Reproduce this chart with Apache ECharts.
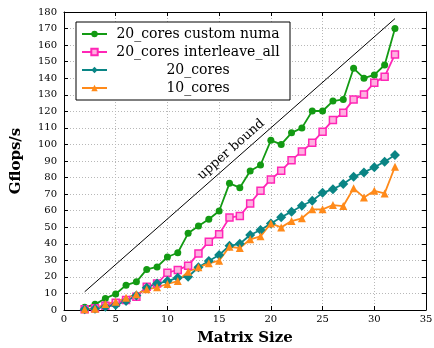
<!DOCTYPE html>
<html>
<head>
<meta charset="utf-8">
<script src="https://cdn.jsdelivr.net/npm/echarts@6/dist/echarts.min.js"></script>
<style>
  html, body { margin: 0; padding: 0; background: #fff; }
  #main { width: 434px; height: 348px; }
</style>
</head>
<body>
<div id="main"></div>
<script>
// matrix sizes 2..32
const sizes = [2, 3, 4, 5, 6, 7, 8, 9, 10, 11, 12, 13, 14, 15, 16, 17,
  18, 19, 20, 21, 22, 23, 24, 25, 26, 27, 28, 29, 30, 31, 32];

const customNuma = [1.6, 3.4, 7, 9.7, 15, 17, 24.5, 26, 32, 34.6, 46.3, 50.7, 54.8, 59.8, 76.5, 73.9,
  84, 87.6, 102.5, 100, 107, 110, 120.2, 120.2, 126.2, 127.2, 146, 140, 142, 148, 170];
const interleaveAll = [0.5, 1, 2.6, 4.4, 6, 8, 14, 16, 22.5, 24.2, 26.8, 34.2, 41.3, 45.7, 55.8, 56.8,
  64.4, 72, 78.9, 84.1, 90.5, 95.8, 101, 107.7, 114.7, 119.2, 127.2, 130.2, 137.3, 140.9, 154.4];
const cores20 = [0.5, 0.8, 2, 3, 5.4, 8.7, 13.5, 16, 17.5, 19.5, 20.1, 25.8, 29.6, 33.2, 38.8, 40,
  45.3, 48.3, 52.3, 56, 59.4, 63, 66, 70.8, 73, 76.1, 80.5, 83.1, 86.2, 89.6, 93.6];
const cores10 = [0.5, 0.8, 3.6, 5, 7.4, 9.5, 12.5, 13.7, 15.7, 17.5, 23.1, 25.8, 28.2, 29.8, 38.2, 37.4,
  42.7, 44.5, 52.3, 49.9, 53.7, 55.4, 60.8, 60.8, 63.4, 62.8, 73.5, 68, 72, 70.4, 86.5];

// upper bound line
const boundX = [2, 32];
const boundY = [11, 176];
const boundLabelX = 16.8; // where the "upper bound" text sits along the line

const names = ["20_cores custom numa", "20_cores interleave_all", "20_cores", "10_cores"];

const font = "DejaVu Serif";

function pairs(ys) {
  return sizes.map((x, i) => [x, ys[i]]);
}

const chart = echarts.init(document.getElementById("main"));

const axisCommon = {
  type: "value",
  axisLine: { show: true, onZero: false, lineStyle: { color: "#000", width: 1 } },
  axisTick: { show: true, inside: true, length: 4, lineStyle: { color: "#000" } }
};

function serie(name, ys, color, symbol, size, fill) {
  return {
    name: name,
    type: "line",
    data: pairs(ys),
    symbol: symbol,
    symbolSize: size,
    showAllSymbol: true,
    lineStyle: { color: color, width: 1.8 },
    itemStyle: { color: fill || color, borderColor: color, borderWidth: fill ? 1.5 : 0 },
    emphasis: { disabled: true },
    animation: false
  };
}

const options = {
  animation: false,
  grid: { left: 64, right: 8, top: 12, bottom: 38, outerBoundsMode: "none", containLabel: false },
  legend: {
    data: names,
    orient: "vertical",
    left: 76,
    top: 22,
    backgroundColor: "#fff",
    borderColor: "#000",
    borderWidth: 1,
    padding: [5, 6, 5, 5],
    itemWidth: 25,
    itemHeight: 8,
    itemGap: 4,
    formatter: n => "{t|" + n + "}",
    textStyle: {
      fontFamily: font,
      fontSize: 14,
      color: "#000",
      rich: { t: { width: 172, align: "center", fontFamily: font, fontSize: 14, lineHeight: 15 } }
    }
  },
  xAxis: [
    Object.assign({}, axisCommon, {
      min: 0, max: 35, interval: 5,
      name: "Matrix Size",
      nameLocation: "middle",
      nameGap: 21,
      nameTextStyle: { fontFamily: font, fontWeight: "bold", fontSize: 15, color: "#000" },
      axisLabel: { fontFamily: font, fontSize: 10, color: "#000", margin: 4 },
      splitLine: { show: true, lineStyle: { color: "#b8b8b8", type: [1, 2], width: 1 } }
    }),
    Object.assign({}, axisCommon, {
      position: "top", min: 0, max: 35, interval: 5,
      axisLabel: { show: false }, splitLine: { show: false }
    })
  ],
  yAxis: [
    Object.assign({}, axisCommon, {
      min: 0, max: 180, interval: 10,
      name: "Gflops/s",
      nameLocation: "middle",
      nameGap: 40,
      nameTextStyle: { fontFamily: font, fontWeight: "bold", fontSize: 15, color: "#000" },
      axisLabel: { fontFamily: font, fontSize: 10, color: "#000", margin: 7 },
      splitLine: { show: true, lineStyle: { color: "#b8b8b8", type: [1, 2], width: 1 } }
    }),
    Object.assign({}, axisCommon, {
      position: "right", min: 0, max: 180, interval: 10,
      axisLabel: { show: false }, splitLine: { show: false }
    })
  ],
  series: [
    {
      name: "upper bound",
      type: "line",
      data: boundX.map((x, i) => [x, boundY[i]]),
      symbol: "none",
      lineStyle: { color: "#000", width: 1 },
      emphasis: { disabled: true },
      silent: true
    },
    serie(names[0], customNuma, "#139a13", "circle", 7),
    serie(names[1], interleaveAll, "#ff26b6", "rect", 7, "#ffb0e0"),
    serie(names[2], cores20, "#0a8585", "diamond", 10),
    serie(names[3], cores10, "#ff8a1a", "triangle", 8)
  ]
};

chart.setOption(options);

// "upper bound" text, placed along the bound line
const p1 = chart.convertToPixel({ xAxisIndex: 0, yAxisIndex: 0 }, [boundX[0], boundY[0]]);
const p2 = chart.convertToPixel({ xAxisIndex: 0, yAxisIndex: 0 }, [boundX[1], boundY[1]]);
const angle = Math.atan2(p1[1] - p2[1], p2[0] - p1[0]);
const slope = (boundY[1] - boundY[0]) / (boundX[1] - boundX[0]);
const anchor = chart.convertToPixel({ xAxisIndex: 0, yAxisIndex: 0 },
  [boundLabelX, boundY[0] + slope * (boundLabelX - boundX[0])]);
const off = 10;
chart.setOption({
  graphic: [{
    type: "text",
    x: anchor[0] - Math.sin(angle) * off,
    y: anchor[1] - Math.cos(angle) * off,
    rotation: angle,
    silent: true,
    style: {
      text: "upper bound",
      fontFamily: font,
      fontSize: 13,
      fill: "#000",
      align: "center",
      verticalAlign: "middle"
    }
  }]
});

window.addEventListener("resize", () => chart.resize());
</script>
</body>
</html>
